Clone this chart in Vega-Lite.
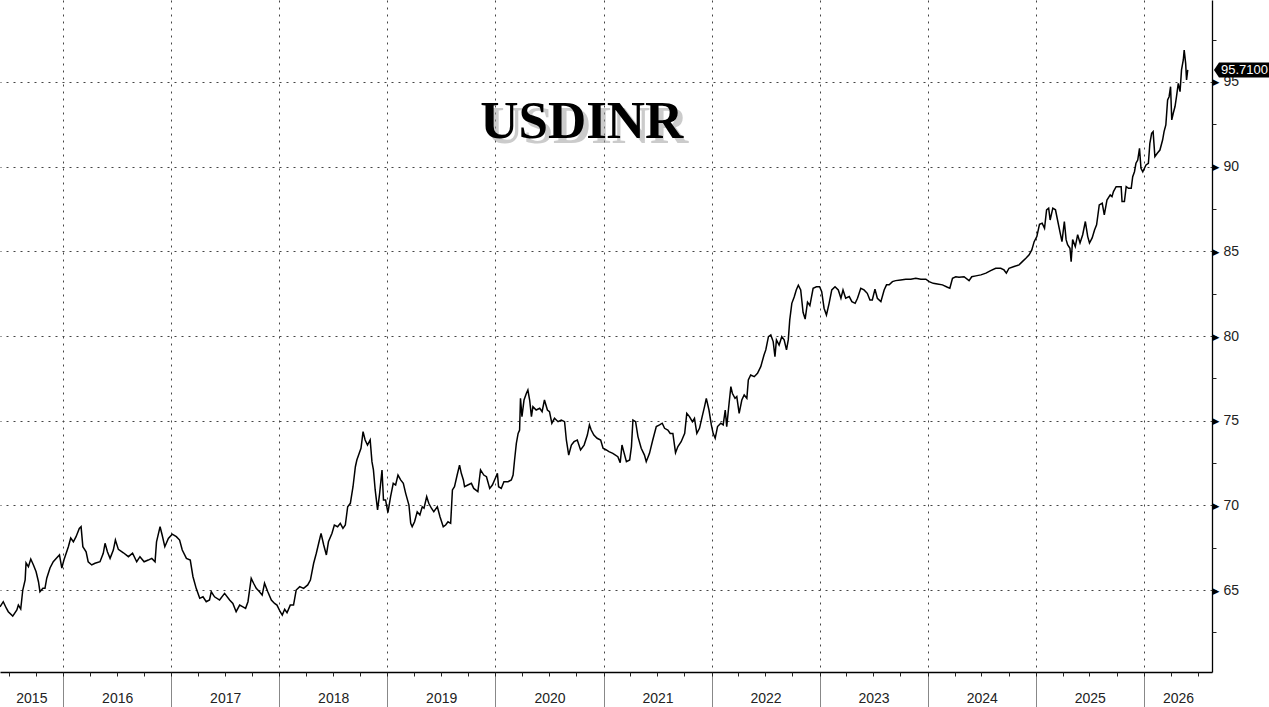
{
"$schema": "https://vega.github.io/schema/vega-lite/v6.json",
"width": 1212, "height": 672,
"autosize": {"type": "none"},
"padding": {"left": 0, "top": 0, "right": 57, "bottom": 35},
"background": "white",
"config": {"view": {"stroke": null}, "axis": {"labelFont": "Liberation Sans", "labelColor": "#222", "title": null}},
"data": {"values": [
{"date":"2015-06-02","value":64.01},{"date":"2015-06-13","value":64.31},{"date":"2015-06-23","value":63.94},{"date":"2015-06-30","value":63.72},{"date":"2015-07-15","value":63.46},{"date":"2015-07-29","value":63.82},{"date":"2015-08-03","value":64.11},{"date":"2015-08-11","value":63.88},{"date":"2015-08-18","value":65.0},{"date":"2015-08-26","value":65.6},{"date":"2015-08-29","value":66.6},{"date":"2015-09-06","value":66.38},{"date":"2015-09-14","value":66.83},{"date":"2015-09-23","value":66.48},{"date":"2015-10-02","value":66.08},{"date":"2015-10-10","value":65.49},{"date":"2015-10-15","value":64.9},{"date":"2015-10-25","value":65.1},{"date":"2015-11-01","value":65.1},{"date":"2015-11-07","value":65.7},{"date":"2015-11-18","value":66.3},{"date":"2015-11-29","value":66.67},{"date":"2015-12-11","value":66.9},{"date":"2015-12-20","value":67.07},{"date":"2015-12-28","value":66.3},
{"date":"2016-01-04","value":66.77},{"date":"2016-01-19","value":67.56},{"date":"2016-01-27","value":68.07},{"date":"2016-02-05","value":67.85},{"date":"2016-02-14","value":68.15},{"date":"2016-02-25","value":68.64},{"date":"2016-03-02","value":68.74},{"date":"2016-03-08","value":67.56},{"date":"2016-03-19","value":67.26},{"date":"2016-03-26","value":66.67},{"date":"2016-04-07","value":66.48},{"date":"2016-04-18","value":66.58},{"date":"2016-05-05","value":66.67},{"date":"2016-05-16","value":67.17},{"date":"2016-05-22","value":67.76},{"date":"2016-05-30","value":67.26},{"date":"2016-06-08","value":66.87},{"date":"2016-06-19","value":67.36},{"date":"2016-06-26","value":67.95},{"date":"2016-07-06","value":67.4},{"date":"2016-07-23","value":67.2},{"date":"2016-08-09","value":66.97},{"date":"2016-08-23","value":67.17},{"date":"2016-09-06","value":66.67},{"date":"2016-09-17","value":66.97},{"date":"2016-10-01","value":66.67},{"date":"2016-10-15","value":66.77},{"date":"2016-10-27","value":66.87},{"date":"2016-11-07","value":66.67},{"date":"2016-11-12","value":67.85},{"date":"2016-11-24","value":68.74},{"date":"2016-12-01","value":68.25},{"date":"2016-12-10","value":67.56},{"date":"2016-12-22","value":68.05},
{"date":"2017-01-04","value":68.3},{"date":"2017-01-18","value":68.15},{"date":"2017-01-29","value":67.95},{"date":"2017-02-07","value":67.36},{"date":"2017-02-21","value":66.87},{"date":"2017-03-06","value":66.77},{"date":"2017-03-15","value":65.8},{"date":"2017-03-26","value":65.1},{"date":"2017-04-07","value":64.51},{"date":"2017-04-18","value":64.6},{"date":"2017-04-29","value":64.31},{"date":"2017-05-10","value":64.41},{"date":"2017-05-16","value":64.9},{"date":"2017-05-27","value":64.6},{"date":"2017-06-13","value":64.41},{"date":"2017-06-30","value":64.8},{"date":"2017-07-17","value":64.41},{"date":"2017-07-28","value":64.21},{"date":"2017-08-08","value":63.72},{"date":"2017-08-20","value":64.11},{"date":"2017-08-31","value":64.01},{"date":"2017-09-09","value":63.92},{"date":"2017-09-17","value":64.31},{"date":"2017-09-28","value":65.69},{"date":"2017-10-06","value":65.4},{"date":"2017-10-15","value":65.1},{"date":"2017-10-26","value":64.9},{"date":"2017-11-04","value":64.7},{"date":"2017-11-12","value":65.4},{"date":"2017-11-23","value":64.9},{"date":"2017-12-05","value":64.41},{"date":"2017-12-16","value":64.21},{"date":"2017-12-24","value":64.11},
{"date":"2018-01-04","value":63.72},{"date":"2018-01-11","value":63.52},{"date":"2018-01-19","value":63.86},{"date":"2018-01-27","value":63.66},{"date":"2018-02-07","value":64.11},{"date":"2018-02-18","value":64.11},{"date":"2018-02-27","value":65.0},{"date":"2018-03-11","value":65.2},{"date":"2018-03-24","value":65.1},{"date":"2018-04-07","value":65.3},{"date":"2018-04-16","value":65.59},{"date":"2018-04-27","value":66.58},{"date":"2018-05-06","value":67.17},{"date":"2018-05-14","value":67.76},{"date":"2018-05-22","value":68.35},{"date":"2018-05-31","value":67.66},{"date":"2018-06-09","value":67.07},{"date":"2018-06-16","value":67.85},{"date":"2018-06-28","value":68.35},{"date":"2018-07-06","value":68.84},{"date":"2018-07-17","value":68.74},{"date":"2018-07-26","value":68.94},{"date":"2018-08-04","value":68.64},{"date":"2018-08-12","value":68.84},{"date":"2018-08-20","value":69.92},{"date":"2018-08-29","value":70.12},{"date":"2018-09-07","value":71.1},{"date":"2018-09-15","value":72.28},{"date":"2018-09-20","value":72.68},{"date":"2018-09-28","value":73.07},{"date":"2018-10-04","value":73.37},{"date":"2018-10-11","value":74.35},{"date":"2018-10-18","value":73.86},{"date":"2018-10-26","value":73.56},{"date":"2018-11-04","value":73.86},{"date":"2018-11-10","value":72.58},{"date":"2018-11-15","value":72.09},{"date":"2018-11-21","value":70.91},{"date":"2018-11-29","value":69.73},{"date":"2018-12-06","value":70.71},{"date":"2018-12-14","value":72.09},{"date":"2018-12-19","value":70.32},{"date":"2018-12-26","value":70.32},
{"date":"2019-01-03","value":69.57},{"date":"2019-01-12","value":70.51},{"date":"2019-01-21","value":71.3},{"date":"2019-01-29","value":71.2},{"date":"2019-02-06","value":71.79},{"date":"2019-02-15","value":71.5},{"date":"2019-02-24","value":71.3},{"date":"2019-03-04","value":70.71},{"date":"2019-03-15","value":70.02},{"date":"2019-03-21","value":68.94},{"date":"2019-03-26","value":68.74},{"date":"2019-04-03","value":69.03},{"date":"2019-04-12","value":69.62},{"date":"2019-04-21","value":69.43},{"date":"2019-04-29","value":69.92},{"date":"2019-05-05","value":69.83},{"date":"2019-05-14","value":70.51},{"date":"2019-05-21","value":70.12},{"date":"2019-05-30","value":69.83},{"date":"2019-06-07","value":69.62},{"date":"2019-06-19","value":69.92},{"date":"2019-06-28","value":69.33},{"date":"2019-07-09","value":68.74},{"date":"2019-07-17","value":68.84},{"date":"2019-07-25","value":69.03},{"date":"2019-08-03","value":68.94},{"date":"2019-08-09","value":70.91},{"date":"2019-08-16","value":71.1},{"date":"2019-08-25","value":71.79},{"date":"2019-09-02","value":72.38},{"date":"2019-09-08","value":71.89},{"date":"2019-09-15","value":71.5},{"date":"2019-09-19","value":71.1},{"date":"2019-09-30","value":71.2},{"date":"2019-10-12","value":71.3},{"date":"2019-10-20","value":71.0},{"date":"2019-11-03","value":70.81},{"date":"2019-11-12","value":72.09},{"date":"2019-11-23","value":71.79},{"date":"2019-12-02","value":71.69},{"date":"2019-12-13","value":71.0},{"date":"2019-12-22","value":71.2},
{"date":"2020-01-01","value":71.6},{"date":"2020-01-08","value":71.89},{"date":"2020-01-12","value":71.1},{"date":"2020-01-21","value":71.0},{"date":"2020-01-30","value":71.4},{"date":"2020-02-13","value":71.4},{"date":"2020-02-24","value":71.5},{"date":"2020-03-01","value":71.79},{"date":"2020-03-06","value":72.68},{"date":"2020-03-12","value":73.66},{"date":"2020-03-18","value":74.25},{"date":"2020-03-23","value":74.45},{"date":"2020-03-26","value":76.32},{"date":"2020-03-31","value":75.24},{"date":"2020-04-07","value":76.22},{"date":"2020-04-15","value":76.62},{"date":"2020-04-20","value":76.81},{"date":"2020-04-26","value":76.22},{"date":"2020-05-02","value":75.24},{"date":"2020-05-07","value":75.83},{"date":"2020-05-18","value":75.63},{"date":"2020-05-30","value":75.73},{"date":"2020-06-07","value":75.53},{"date":"2020-06-15","value":76.22},{"date":"2020-06-25","value":75.63},{"date":"2020-07-02","value":75.53},{"date":"2020-07-10","value":74.85},{"date":"2020-07-19","value":75.14},{"date":"2020-07-31","value":74.94},{"date":"2020-08-11","value":75.04},{"date":"2020-08-22","value":74.94},{"date":"2020-08-28","value":73.86},{"date":"2020-09-05","value":72.97},{"date":"2020-09-14","value":73.56},{"date":"2020-09-23","value":73.76},{"date":"2020-10-04","value":73.86},{"date":"2020-10-15","value":73.27},{"date":"2020-10-27","value":73.56},{"date":"2020-11-07","value":74.15},{"date":"2020-11-14","value":74.75},{"date":"2020-11-20","value":74.45},{"date":"2020-11-29","value":74.15},{"date":"2020-12-10","value":73.96},{"date":"2020-12-22","value":73.86},{"date":"2020-12-30","value":73.37},
{"date":"2021-01-10","value":73.27},{"date":"2021-01-19","value":73.17},{"date":"2021-02-01","value":73.07},{"date":"2021-02-18","value":72.87},{"date":"2021-02-26","value":72.52},{"date":"2021-03-04","value":73.56},{"date":"2021-03-10","value":73.17},{"date":"2021-03-19","value":72.58},{"date":"2021-03-30","value":72.68},{"date":"2021-04-05","value":73.47},{"date":"2021-04-10","value":75.04},{"date":"2021-04-19","value":74.94},{"date":"2021-04-27","value":74.06},{"date":"2021-05-08","value":73.37},{"date":"2021-05-19","value":72.97},{"date":"2021-05-25","value":72.58},{"date":"2021-06-05","value":73.07},{"date":"2021-06-16","value":73.86},{"date":"2021-06-28","value":74.65},{"date":"2021-07-09","value":74.75},{"date":"2021-07-18","value":74.85},{"date":"2021-07-26","value":74.55},{"date":"2021-08-06","value":74.45},{"date":"2021-08-14","value":74.25},{"date":"2021-08-23","value":74.25},{"date":"2021-09-01","value":73.11},{"date":"2021-09-09","value":73.47},{"date":"2021-09-20","value":73.76},{"date":"2021-10-02","value":74.25},{"date":"2021-10-09","value":75.43},{"date":"2021-10-18","value":75.24},{"date":"2021-10-28","value":74.94},{"date":"2021-11-04","value":75.14},{"date":"2021-11-12","value":74.25},{"date":"2021-11-21","value":74.55},{"date":"2021-11-30","value":75.24},{"date":"2021-12-08","value":75.83},{"date":"2021-12-14","value":76.32},{"date":"2021-12-23","value":75.63},{"date":"2021-12-31","value":74.75},
{"date":"2022-01-06","value":74.25},{"date":"2022-01-13","value":73.96},{"date":"2022-01-21","value":74.65},{"date":"2022-02-01","value":74.85},{"date":"2022-02-09","value":74.75},{"date":"2022-02-16","value":75.63},{"date":"2022-02-21","value":74.65},{"date":"2022-03-01","value":76.03},{"date":"2022-03-07","value":77.01},{"date":"2022-03-12","value":76.62},{"date":"2022-03-21","value":76.32},{"date":"2022-03-27","value":76.42},{"date":"2022-04-04","value":75.43},{"date":"2022-04-13","value":76.22},{"date":"2022-04-21","value":76.52},{"date":"2022-04-30","value":76.32},{"date":"2022-05-05","value":77.4},{"date":"2022-05-13","value":77.7},{"date":"2022-05-25","value":77.6},{"date":"2022-06-05","value":77.8},{"date":"2022-06-16","value":78.19},{"date":"2022-06-27","value":78.88},{"date":"2022-07-03","value":79.18},{"date":"2022-07-12","value":79.96},{"date":"2022-07-20","value":80.06},{"date":"2022-07-28","value":79.67},{"date":"2022-08-03","value":78.78},{"date":"2022-08-08","value":79.77},{"date":"2022-08-17","value":79.47},{"date":"2022-08-26","value":79.96},{"date":"2022-09-03","value":79.77},{"date":"2022-09-11","value":79.18},{"date":"2022-09-17","value":79.77},{"date":"2022-09-22","value":80.95},{"date":"2022-09-29","value":81.93},{"date":"2022-10-07","value":82.3},{"date":"2022-10-14","value":82.72},{"date":"2022-10-21","value":83.0},{"date":"2022-10-29","value":82.72},{"date":"2022-11-06","value":81.4},{"date":"2022-11-13","value":81.0},{"date":"2022-11-21","value":82.0},{"date":"2022-11-29","value":81.8},{"date":"2022-12-10","value":82.82},{"date":"2022-12-21","value":82.91},
{"date":"2023-01-01","value":82.91},{"date":"2023-01-08","value":82.62},{"date":"2023-01-16","value":81.64},{"date":"2023-01-24","value":81.24},{"date":"2023-02-02","value":81.93},{"date":"2023-02-11","value":82.72},{"date":"2023-02-22","value":82.91},{"date":"2023-03-05","value":82.72},{"date":"2023-03-14","value":82.23},{"date":"2023-03-21","value":82.72},{"date":"2023-03-30","value":82.23},{"date":"2023-04-11","value":82.33},{"date":"2023-04-20","value":82.03},{"date":"2023-05-01","value":81.93},{"date":"2023-05-09","value":82.23},{"date":"2023-05-20","value":82.82},{"date":"2023-05-31","value":82.72},{"date":"2023-06-11","value":82.52},{"date":"2023-06-20","value":82.13},{"date":"2023-06-28","value":82.13},{"date":"2023-07-07","value":82.77},{"date":"2023-07-15","value":82.23},{"date":"2023-07-27","value":82.03},{"date":"2023-08-07","value":82.72},{"date":"2023-08-15","value":83.02},{"date":"2023-08-24","value":83.02},{"date":"2023-09-04","value":83.21},{"date":"2023-09-15","value":83.27},{"date":"2023-10-02","value":83.31},{"date":"2023-10-19","value":83.35},{"date":"2023-11-05","value":83.35},{"date":"2023-11-22","value":83.41},{"date":"2023-12-09","value":83.35},{"date":"2023-12-26","value":83.35},
{"date":"2024-01-06","value":83.21},{"date":"2024-01-20","value":83.11},{"date":"2024-02-03","value":83.07},{"date":"2024-02-20","value":83.02},{"date":"2024-03-08","value":82.88},{"date":"2024-03-16","value":82.82},{"date":"2024-03-25","value":83.41},{"date":"2024-04-05","value":83.5},{"date":"2024-04-16","value":83.47},{"date":"2024-05-03","value":83.5},{"date":"2024-05-20","value":83.27},{"date":"2024-05-29","value":83.5},{"date":"2024-06-12","value":83.55},{"date":"2024-06-29","value":83.61},{"date":"2024-07-16","value":83.71},{"date":"2024-08-01","value":83.86},{"date":"2024-08-18","value":84.0},{"date":"2024-09-04","value":84.0},{"date":"2024-09-15","value":83.9},{"date":"2024-09-23","value":83.71},{"date":"2024-10-02","value":84.0},{"date":"2024-10-19","value":84.1},{"date":"2024-11-05","value":84.2},{"date":"2024-11-16","value":84.39},{"date":"2024-11-28","value":84.59},{"date":"2024-12-09","value":84.79},{"date":"2024-12-18","value":85.08},{"date":"2024-12-26","value":85.57},
{"date":"2025-01-04","value":85.87},{"date":"2025-01-13","value":86.6},{"date":"2025-01-22","value":86.66},{"date":"2025-01-30","value":86.36},{"date":"2025-02-06","value":87.45},{"date":"2025-02-13","value":87.55},{"date":"2025-02-18","value":86.85},{"date":"2025-02-27","value":87.55},{"date":"2025-03-08","value":87.45},{"date":"2025-03-16","value":86.76},{"date":"2025-03-24","value":86.07},{"date":"2025-03-30","value":85.57},{"date":"2025-04-07","value":86.76},{"date":"2025-04-13","value":85.69},{"date":"2025-04-18","value":85.39},{"date":"2025-04-26","value":85.18},{"date":"2025-04-30","value":84.39},{"date":"2025-05-05","value":85.69},{"date":"2025-05-14","value":85.28},{"date":"2025-05-22","value":85.98},{"date":"2025-05-30","value":85.49},{"date":"2025-06-08","value":85.98},{"date":"2025-06-17","value":86.76},{"date":"2025-06-25","value":85.87},{"date":"2025-07-01","value":85.49},{"date":"2025-07-10","value":85.79},{"date":"2025-07-18","value":86.26},{"date":"2025-07-25","value":86.56},{"date":"2025-08-03","value":87.74},{"date":"2025-08-13","value":87.84},{"date":"2025-08-20","value":87.15},{"date":"2025-08-29","value":88.03},{"date":"2025-09-09","value":88.33},{"date":"2025-09-15","value":88.23},{"date":"2025-09-20","value":88.53},{"date":"2025-09-29","value":88.82},{"date":"2025-10-08","value":88.82},{"date":"2025-10-16","value":88.82},{"date":"2025-10-19","value":87.94},{"date":"2025-10-27","value":87.94},{"date":"2025-11-02","value":88.82},{"date":"2025-11-10","value":88.72},{"date":"2025-11-19","value":88.72},{"date":"2025-11-24","value":89.41},{"date":"2025-11-30","value":89.7},{"date":"2025-12-05","value":90.2},{"date":"2025-12-11","value":90.39},{"date":"2025-12-17","value":91.08},{"date":"2025-12-22","value":89.9},{"date":"2025-12-28","value":89.7},
{"date":"2026-01-08","value":90.1},{"date":"2026-01-16","value":90.2},{"date":"2026-01-21","value":91.38},{"date":"2026-01-27","value":91.97},{"date":"2026-02-01","value":92.07},{"date":"2026-02-07","value":90.59},{"date":"2026-02-15","value":90.79},{"date":"2026-02-24","value":90.98},{"date":"2026-03-05","value":91.57},{"date":"2026-03-10","value":92.07},{"date":"2026-03-16","value":92.46},{"date":"2026-03-22","value":93.94},{"date":"2026-03-27","value":94.13},{"date":"2026-04-01","value":94.72},{"date":"2026-04-05","value":92.76},{"date":"2026-04-10","value":93.15},{"date":"2026-04-16","value":93.55},{"date":"2026-04-21","value":94.13},{"date":"2026-04-27","value":94.92},{"date":"2026-05-03","value":94.43},{"date":"2026-05-08","value":95.71},{"date":"2026-05-14","value":96.3},{"date":"2026-05-17","value":96.89},{"date":"2026-05-22","value":96.1},{"date":"2026-05-25","value":95.12},{"date":"2026-05-29","value":95.71}
]},
"layer": [
{"mark": {"type": "line", "color": "black", "strokeWidth": 1.5},
 "encoding": {
  "x": {"field": "date", "type": "temporal",
        "scale": {"domain": [{"year": 2015, "month": 6, "date": 2}, {"year": 2026, "month": 8, "date": 19}], "nice": false},
        "axis": {"orient": "bottom", "tickCount": {"interval": "year", "step": 1}, "labels": false,
                 "grid": true, "gridColor": "#444", "gridDash": [2, 5], "gridWidth": 1,
                 "ticks": true, "tickSize": 35, "tickColor": "#888", "tickWidth": 1,
                 "domain": true, "domainColor": "black", "domainWidth": 1.5}},
  "y": {"field": "value", "type": "quantitative",
        "scale": {"domain": [60.16, 99.84], "nice": false, "zero": false},
        "axis": {"orient": "right", "values": [65, 70, 75, 80, 85, 90, 95], "format": "d",
                 "grid": true, "gridColor": "#444", "gridDash": [2, 5], "gridWidth": 1,
                 "ticks": false, "tickSize": 0, "labelPadding": 11, "labelFontSize": 14,
                 "domain": true, "domainColor": "black", "domainWidth": 1.3}}
 }},
{"mark": {"type": "line", "opacity": 0},
 "encoding": {
  "x": {"field": "date", "type": "temporal",
        "axis": {"orient": "bottom", "tickCount": {"interval": "month", "step": 3}, "labels": false, "grid": false,
                 "ticks": true, "tickSize": 4, "tickColor": "#222", "tickWidth": 1, "domain": false}},
  "y": {"field": "value", "type": "quantitative",
        "axis": {"orient": "right", "values": [62.5, 65, 67.5, 70, 72.5, 75, 77.5, 80, 82.5, 85, 87.5, 90, 92.5, 95, 97.5],
                 "grid": false, "domain": false, "ticks": true, "tickSize": 4, "tickColor": "#222",
                 "labelExpr": "datum.value % 5 == 0 ? '▶' : ''", "labelFont": "DejaVu Sans", "labelFontSize": 9,
                 "labelColor": "black", "labelPadding": -4, "labelOverlap": false}}
 }},
{"mark": {"type": "line", "opacity": 0},
 "encoding": {
  "x": {"field": "date", "type": "temporal",
        "axis": {"orient": "bottom", "values": [
          {"year": 2015, "month": 9, "date": 16}, {"year": 2016, "month": 7, "date": 2}, {"year": 2017, "month": 7, "date": 2},
          {"year": 2018, "month": 7, "date": 2}, {"year": 2019, "month": 7, "date": 2}, {"year": 2020, "month": 7, "date": 2},
          {"year": 2021, "month": 7, "date": 2}, {"year": 2022, "month": 7, "date": 2}, {"year": 2023, "month": 7, "date": 2},
          {"year": 2024, "month": 7, "date": 2}, {"year": 2025, "month": 7, "date": 2}, {"year": 2026, "month": 4, "date": 26}],
                 "format": "%Y", "labels": true, "labelFontSize": 14, "labelPadding": 19, "labelFlush": false, "labelOverlap": false,
                 "grid": false, "ticks": false, "tickSize": 0, "domain": false}},
  "y": {"field": "value", "type": "quantitative", "axis": null}
 }},
{"data": {"values": [{"label": "95.7100", "value": 95.71}]},
 "mark": {"type": "point", "shape": "M0.07,0L0.25,-0.27L2.04,-0.27L2.04,0.27L0.25,0.27Z", "size": 3136,
          "filled": true, "fill": "black", "opacity": 1, "strokeWidth": 0},
 "encoding": {
  "x": {"datum": {"year": 2026, "month": 8, "date": 19}, "type": "temporal", "axis": null},
  "y": {"field": "value", "type": "quantitative", "axis": null}
 }},
{"data": {"values": [{"label": "95.7100", "value": 95.71}]},
 "mark": {"type": "text", "align": "left", "baseline": "middle", "dx": 9, "color": "white", "font": "Liberation Sans", "fontSize": 13},
 "encoding": {
  "x": {"datum": {"year": 2026, "month": 8, "date": 19}, "type": "temporal", "axis": null},
  "y": {"field": "value", "type": "quantitative", "axis": null},
  "text": {"field": "label"}
 }},
{"data": {"values": [{"title": "USDINR"}]},
 "mark": {"type": "text", "align": "center", "baseline": "alphabetic", "dx": 5, "dy": 5, "color": "#999", "opacity": 0.5,
          "font": "Liberation Serif", "fontWeight": "bold", "fontSize": 53},
 "encoding": {
  "x": {"datum": {"year": 2020, "month": 10, "date": 19}, "type": "temporal", "axis": null},
  "y": {"datum": 91.68, "type": "quantitative", "axis": null},
  "text": {"field": "title"}
 }},
{"data": {"values": [{"title": "USDINR"}]},
 "mark": {"type": "text", "align": "center", "baseline": "alphabetic", "color": "black",
          "font": "Liberation Serif", "fontWeight": "bold", "fontSize": 53},
 "encoding": {
  "x": {"datum": {"year": 2020, "month": 10, "date": 19}, "type": "temporal", "axis": null},
  "y": {"datum": 91.68, "type": "quantitative", "axis": null},
  "text": {"field": "title"}
 }}
],
"resolve": {"axis": {"x": "independent", "y": "independent"}}
}
